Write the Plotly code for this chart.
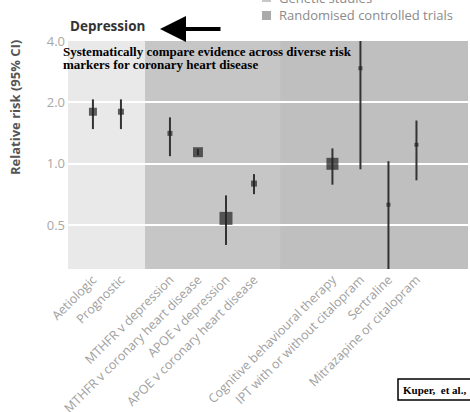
import plotly.graph_objects as go

# Relative risk of coronary heart disease associated with depression,
# grouped by the type of evidence.
labels = [
    "Aetiologic", "Prognostic",
    "MTHFR v depression", "MTHFR v coronary heart disease",
    "APOE v depression", "APOE v coronary heart disease",
    "Cognitive behavioural therapy", "IPT with or without citalopram",
    "Sertraline", "Mitrazapine or citalopram",
]
study_type = ["obs", "obs", "gen", "gen", "gen", "gen", "rct", "rct", "rct", "rct"]
rr = [1.80, 1.80, 1.41, 1.14, 0.54, 0.80, 1.00, 2.94, 0.63, 1.24]
ci_low = [1.48, 1.48, 1.09, 1.10, 0.40, 0.71, 0.79, 0.94, 0.20, 0.83]
ci_high = [2.07, 2.07, 1.69, 1.18, 0.70, 0.89, 1.19, 6.50, 1.03, 1.63]
# marker size reflects the weight of each estimate
marker_px = [8, 6, 5, 10, 13, 6, 12, 4, 4, 4]
y_ticks = [0.5, 1.0, 2.0, 4.0]
y_tick_text = ["0.5", "1.0", "2.0", "4.0"]

# x positions: unit steps within a group, wider gaps between groups
group_gap = {("obs", "gen"): 1.75, ("gen", "rct"): 2.8}
xpos = []
for i, g in enumerate(study_type):
    if i == 0:
        xpos.append(0.0)
    elif g == study_type[i - 1]:
        xpos.append(xpos[-1] + 1.0)
    else:
        xpos.append(xpos[-1] + group_gap[(study_type[i - 1], g)])

err_plus = [h - v for h, v in zip(ci_high, rr)]
err_minus = [v - l for v, l in zip(rr, ci_low)]

fig = go.Figure()
fig.add_trace(go.Scatter(
    x=xpos, y=rr, mode="markers",
    marker=dict(symbol="square", size=marker_px, color="#222222", line=dict(width=0)),
    error_y=dict(type="data", symmetric=False, array=err_plus, arrayminus=err_minus,
                 color="#333333", thickness=2, width=0),
    showlegend=False, hoverinfo="skip", cliponaxis=True,
))

# plot area in pixels: left 68, right 468, top 41, bottom 269
L, W, B, H = 68, 400, 269, 228


def px(x):
    return (x - L) / W


def py(y):
    return (B - y) / H


x_lo, x_hi = -0.89, 13.39
b1, b2 = 1.86, 6.68
shapes = [
    dict(type="rect", xref="x", yref="paper", x0=x_lo, x1=b1, y0=0, y1=1,
         fillcolor="#e9e9e9", line=dict(width=0), layer="below"),
    dict(type="rect", xref="x", yref="paper", x0=b1, x1=b2, y0=0, y1=1,
         fillcolor="#c6c6c6", line=dict(width=0), layer="below"),
    dict(type="rect", xref="x", yref="paper", x0=b2, x1=x_hi, y0=0, y1=1,
         fillcolor="#bfbfbf", line=dict(width=0), layer="below"),
    dict(type="line", xref="paper", yref="y", x0=0, x1=1, y0=1.0, y1=1.0,
         line=dict(color="#4a4a4a", width=1.6, dash="dash"), layer="between"),
    # legend swatches
    dict(type="rect", xref="paper", yref="paper", x0=px(262), x1=px(271),
         y0=py(-7), y1=py(2), fillcolor="#c8c8c8", line=dict(width=0)),
    dict(type="rect", xref="paper", yref="paper", x0=px(262), x1=px(271),
         y0=py(20), y1=py(11), fillcolor="#aaaaaa", line=dict(width=0)),
    # citation box
    dict(type="rect", xref="paper", yref="paper", x0=px(398), x1=px(485),
         y0=py(400), y1=py(379), fillcolor="white",
         line=dict(color="black", width=1.5)),
]

serif = dict(family="Liberation Serif", size=13, color="black")
annotations = [
    dict(text="<b>Depression</b>", xref="paper", yref="paper", x=0, y=py(26.5),
         xanchor="left", yanchor="middle", showarrow=False,
         font=dict(family="Open Sans", size=13.5, color="#333333")),
    dict(text="", xref="paper", yref="paper", x=px(160), y=py(29),
         ax=62, ay=0, showarrow=True, arrowhead=2, arrowsize=1.3, arrowwidth=4,
         arrowcolor="black"),
    dict(text="<b>Relative risk (95% CI)</b>", xref="paper", yref="paper",
         x=px(15), y=py(108), textangle=-90,
         xanchor="center", yanchor="middle", showarrow=False,
         font=dict(family="Open Sans", size=13, color="#555555")),
    dict(text="Genetic studies", xref="paper", yref="paper", x=px(277),
         y=py(-2), xanchor="left", yanchor="middle", showarrow=False,
         font=dict(family="Open Sans", size=13, color="#8a8a8a")),
    dict(text="Randomised controlled trials", xref="paper", yref="paper", x=px(277),
         y=py(15.5), xanchor="left", yanchor="middle", showarrow=False,
         font=dict(family="Open Sans", size=13, color="#8a8a8a")),
    dict(text="<b>Systematically compare evidence across diverse risk</b>",
         xref="paper", yref="paper", x=px(61), y=py(51),
         xanchor="left", yanchor="middle", showarrow=False, font=serif),
    dict(text="<b>markers for coronary heart disease</b>",
         xref="paper", yref="paper", x=px(61), y=py(64),
         xanchor="left", yanchor="middle", showarrow=False, font=serif),
    dict(text="<b>Kuper,&nbsp; et al.,</b>", xref="paper", yref="paper", x=px(401),
         y=py(389.5), xanchor="left", yanchor="middle", showarrow=False,
         font=dict(family="Liberation Serif", size=11, color="black")),
]

fig.update_layout(
    width=470, height=412,
    margin=dict(l=L, r=470 - L - W, t=41, b=412 - B),
    paper_bgcolor="white", plot_bgcolor="white",
    shapes=shapes, annotations=annotations,
    xaxis=dict(range=[x_lo, x_hi], tickmode="array", tickvals=xpos, ticktext=labels,
               tickangle=-45, showgrid=False, zeroline=False, showline=False,
               ticks="", automargin=False,
               tickfont=dict(family="Open Sans", size=12.5, color="#a0a0a0")),
    yaxis=dict(type="log", range=[-0.5157, 0.60206], tickmode="array",
               tickvals=y_ticks, ticktext=y_tick_text, showgrid=True,
               gridcolor="white", gridwidth=2, zeroline=False, showline=False,
               ticks="", ticklabelstandoff=2, automargin=False,
               tickfont=dict(family="Open Sans", size=13, color="#a8a8a8")),
)

fig.write_html("out.html")
